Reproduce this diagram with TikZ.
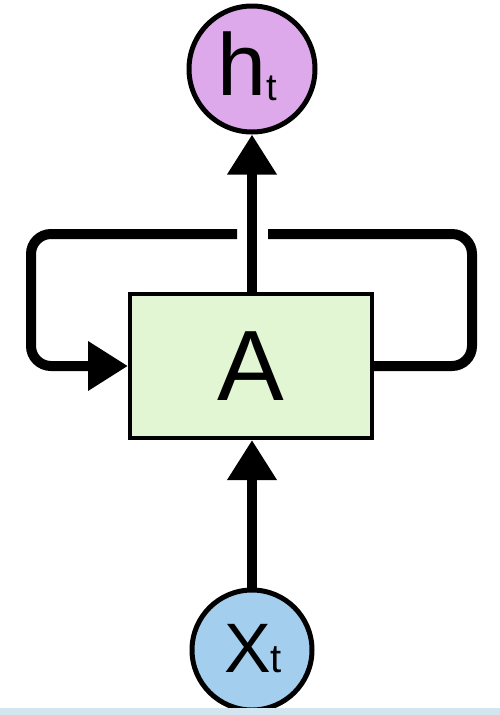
\documentclass[tikz,border=0pt]{standalone}
\usepackage{fontspec}
\setmainfont{Liberation Sans}
\usetikzlibrary{arrows.meta}
\definecolor{hfill}{HTML}{DDA9EA}
\definecolor{xfill}{HTML}{A3CEEE}
\definecolor{afill}{HTML}{E2F6D4}
\definecolor{bandc}{HTML}{D3E6EF}
\begin{document}
\begin{tikzpicture}[x=1pt,y=-1pt,
  circ/.style={circle, draw=black, line width=5pt, inner sep=0pt},
  cell/.style={draw=black, line width=4pt, fill=afill, minimum width=242pt, minimum height=144pt, inner sep=0pt},
  flow/.style={line width=10pt, -{Triangle[length=40pt,width=47pt]}},
  link/.style={line width=10pt, rounded corners=20pt},
  lab/.style={anchor=base west, inner sep=0pt}]
\fill[white] (0,0) rectangle (500,715);
\useasboundingbox (0,0) rectangle (500,715);
% nodes
\node[circ, fill=hfill, minimum size=126pt] (h) at (252,69) {};
\node[circ, fill=xfill, minimum size=120pt] (x) at (252,650) {};
\node[cell, font=\fontsize{100}{100}\selectfont] (A) at (251,366) {A};
\node[lab, font=\fontsize{88}{88}\selectfont] (hl) at (217,95) {h\raisebox{-5pt}{\fontsize{38}{38}\selectfont t}};
\node[lab, font=\fontsize{70}{70}\selectfont] (xl) at (224,672) {X{\fontsize{40}{40}\selectfont t}};
% vertical flow
\draw[flow] (x.north) -- (x.north |- A.south);
\draw[flow] (A.north -| h.south) -- (h.south);
% recurrent loop
\coordinate (rb) at (472,366);
\coordinate (rt) at (472,234);
\coordinate (gr) at (268,234);
\coordinate (gl) at (237,234);
\coordinate (lt) at (31,234);
\coordinate (lb) at (31,366);
\draw[link] (A.east) -- (rb) -- (rt) -- (gr);
\draw[link, -{Triangle[length=40pt,width=47pt]}] (gl) -- (lt) -- (lb) -- (A.west);
% bottom band
\fill[bandc] (0,708) rectangle (500,715);
\end{tikzpicture}
\end{document}
